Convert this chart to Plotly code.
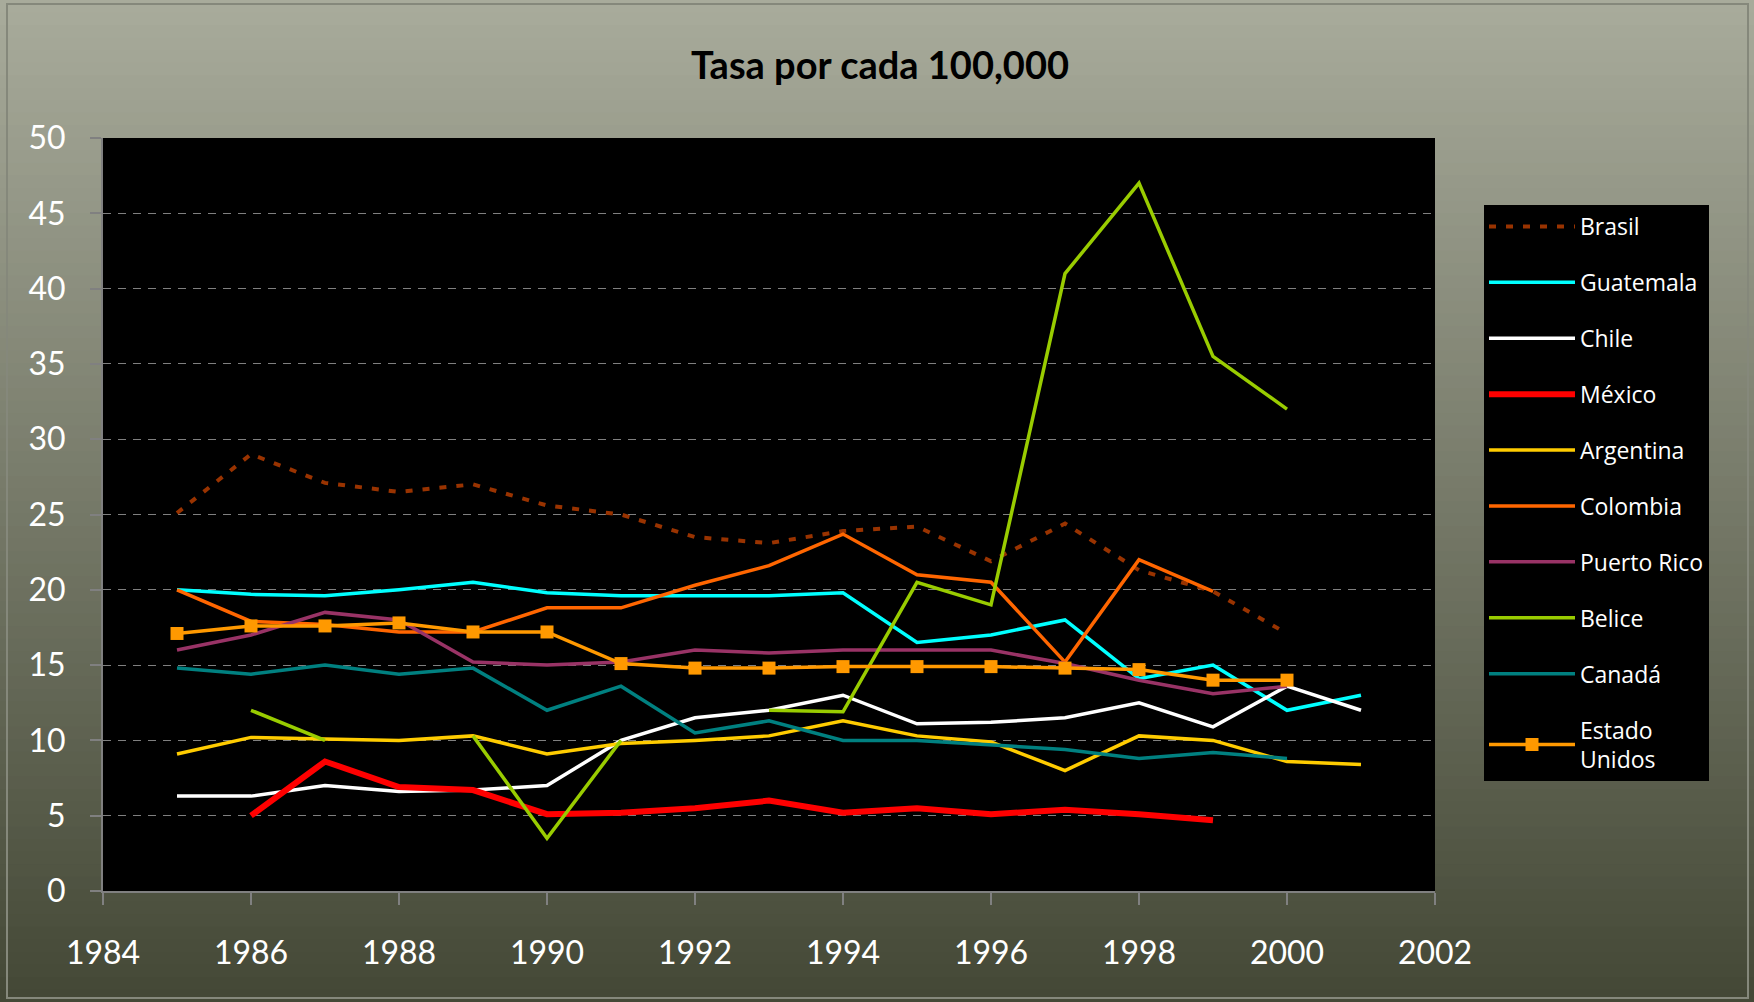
import plotly.graph_objects as go

years = list(range(1985, 2002))

brasil = [25.1, 29.0, 27.1, 26.5, 27.0, 25.6, 25.0, 23.5, 23.1, 23.9, 24.2, 21.9, 24.4, 21.3, 19.9, 17.1, None]
guatemala = [20.0, 19.7, 19.6, 20.0, 20.5, 19.8, 19.6, 19.6, 19.6, 19.8, 16.5, 17.0, 18.0, 14.1, 15.0, 12.0, 13.0]
chile = [6.3, 6.3, 7.0, 6.6, 6.7, 7.0, 10.0, 11.5, 12.0, 13.0, 11.1, 11.2, 11.5, 12.5, 10.9, 13.6, 12.0]
mexico = [None, 5.0, 8.6, 6.9, 6.7, 5.1, 5.2, 5.5, 6.0, 5.2, 5.5, 5.1, 5.4, 5.1, 4.7, None, None]
argentina = [9.1, 10.2, 10.1, 10.0, 10.3, 9.1, 9.8, 10.0, 10.3, 11.3, 10.3, 9.9, 8.0, 10.3, 10.0, 8.6, 8.4]
colombia = [20.0, 17.9, 17.7, 17.2, 17.2, 18.8, 18.8, 20.3, 21.6, 23.7, 21.0, 20.5, 15.2, 22.0, 19.9, None, None]
puerto_rico = [16.0, 17.0, 18.5, 18.0, 15.2, 15.0, 15.2, 16.0, 15.8, 16.0, 16.0, 16.0, 15.1, 14.0, 13.1, 13.6, None]
belice = [None, 12.0, 10.0, None, 10.3, 3.5, 10.0, None, 12.0, 11.9, 20.5, 19.0, 41.0, 47.0, 35.5, 32.0, None]
canada = [14.8, 14.4, 15.0, 14.4, 14.8, 12.0, 13.6, 10.5, 11.3, 10.0, 10.0, 9.7, 9.4, 8.8, 9.2, 8.8, None]
estados_unidos = [17.1, 17.6, 17.6, 17.8, 17.2, 17.2, 15.1, 14.8, 14.8, 14.9, 14.9, 14.9, 14.8, 14.7, 14.0, 14.0, None]

series = [
    ("Brasil", brasil, dict(color="#993300", width=4, dash="7px,10px"), None),
    ("Guatemala", guatemala, dict(color="#00FFFF", width=3.5), None),
    ("Chile", chile, dict(color="#FFFFFF", width=3.5), None),
    ("México", mexico, dict(color="#FF0000", width=6), None),
    ("Argentina", argentina, dict(color="#FFCC00", width=3.5), None),
    ("Colombia", colombia, dict(color="#FF6600", width=3.5), None),
    ("Puerto Rico", puerto_rico, dict(color="#993366", width=3.5), None),
    ("Belice", belice, dict(color="#99CC00", width=3.5), None),
    ("Canadá", canada, dict(color="#008080", width=3.5), None),
    ("Estado<br>Unidos", estados_unidos, dict(color="#FF9900", width=3.5),
     dict(symbol="square", size=13, color="#FF9900")),
]

fig = go.Figure()
for i, (name, vals, line, marker) in enumerate(series):
    fig.add_trace(go.Scatter(
        x=years, y=vals, name=name, mode="lines+markers" if marker else "lines",
        line=line, marker=marker, connectgaps=False, legendgroup=f"g{i}",
    ))

W, H = 1754, 1002
L, R, T, B = 103, 1435, 138, 891
PW, PH = R - L, B - T


def px_x(p):
    return (p - L) / PW


def px_y(p):
    return (B - p) / PH


# background gradient bands (paper-level decoration)
shapes = []
top = (168, 171, 155)
bot = (68, 72, 54)
n = 80
y_top, y_bot = px_y(0), px_y(H)
for k in range(n):
    t = k / (n - 1)
    c = tuple(int(round(top[j] + (bot[j] - top[j]) * t)) for j in range(3))
    ya = y_top + (y_bot - y_top) * k / n
    yb = y_top + (y_bot - y_top) * (k + 1) / n
    shapes.append(dict(type="rect", xref="paper", yref="paper", layer="below",
                       x0=px_x(-5), x1=px_x(W + 5), y0=yb - 0.002, y1=ya,
                       fillcolor=f"rgb{c}", line_width=0))
# thin outer frame
shapes.append(dict(type="rect", xref="paper", yref="paper", layer="below",
                   x0=px_x(7), x1=px_x(W - 6), y0=px_y(H - 4), y1=px_y(4),
                   fillcolor="rgba(0,0,0,0)", line=dict(color="#85887b", width=2)))
# black plotting area
shapes.append(dict(type="rect", xref="x domain", yref="y domain", layer="below",
                   x0=0, x1=1, y0=0, y1=1, fillcolor="black", line_width=0))

fig.update_layout(
    width=W, height=H,
    margin=dict(l=L, r=W - R, t=T, b=H - B, autoexpand=False),
    paper_bgcolor="#7d806f",
    plot_bgcolor="black",
    shapes=shapes,
    title=dict(text="<b>Tasa por cada 100,000</b>", x=880 / W, xanchor="center", xref="container",
               y=1 - 66 / H, yanchor="middle", yref="container",
               font=dict(family="Lato", size=38, color="black")),
    xaxis=dict(range=[1984, 2002], dtick=2, tick0=1984, showgrid=False, zeroline=False,
               showline=True, linecolor="#808080", linewidth=2,
               ticks="outside", ticklen=12, tickcolor="#808080", tickwidth=1.5,
               ticklabelstandoff=21,
               tickfont=dict(family="Lato", size=32, color="white")),
    yaxis=dict(range=[0, 50], dtick=5, showgrid=True, gridcolor="#808080", gridwidth=1,
               griddash="8px,7px", zeroline=False,
               showline=True, linecolor="#808080", linewidth=2,
               ticks="outside", ticklen=11, tickcolor="#808080", tickwidth=1.5,
               ticklabelstandoff=18,
               tickfont=dict(family="Lato", size=32, color="white")),
    legend=dict(x=px_x(1484), y=px_y(205), xanchor="left", yanchor="top",
                bgcolor="black", font=dict(family="Open Sans", size=23, color="white"),
                tracegroupgap=23, itemwidth=86, traceorder="grouped"),
    showlegend=True,
)

fig.write_html("out.html", config={"displayModeBar": False},
               post_script="document.body.style.margin='0';document.body.style.overflow='hidden';")
